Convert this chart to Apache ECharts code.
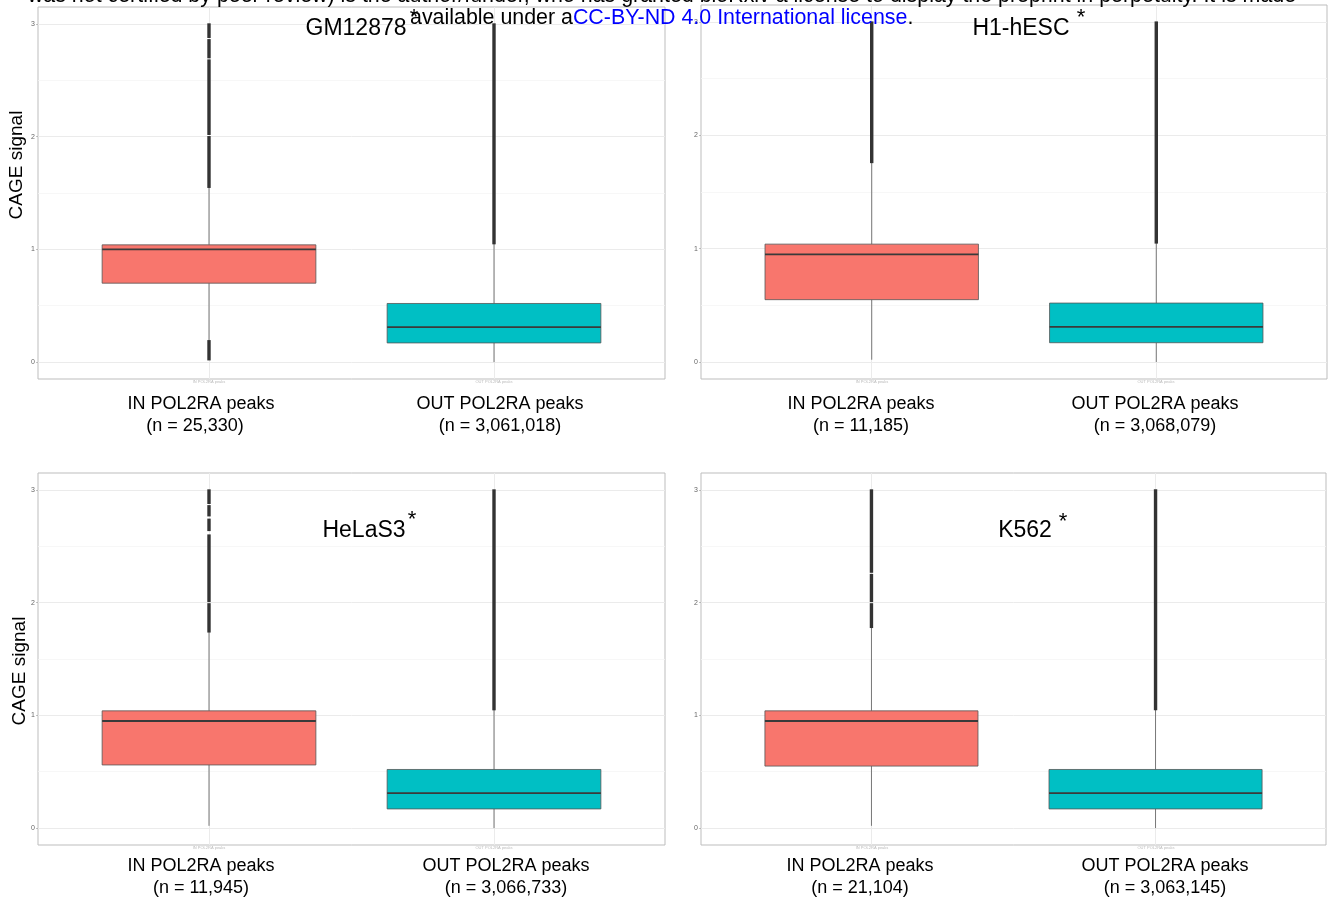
<!DOCTYPE html>
<html>
<head>
<meta charset="utf-8">
<script src="https://cdn.jsdelivr.net/npm/echarts@6/dist/echarts.min.js"></script>
<style>
html,body{margin:0;padding:0;background:#fff;}
#chart{width:1334px;height:901px;}
</style>
</head>
<body>
<div id="chart"></div>
<script>
// ---------------- data ----------------
const categories = ['IN POL2RA peaks', 'OUT POL2RA peaks'];
const categoryX = [1, 2];
const panelNames = ['GM12878', 'H1-hESC', 'HeLaS3', 'K562'];
const counts = [
  ['25,330', '3,061,018'],
  ['11,185', '3,068,079'],
  ['11,945', '3,066,733'],
  ['21,104', '3,063,145']
];
// box stats: [lowerWhisker, Q1, median, Q3, upperWhisker]
const gm12878Box = [[0.19, 0.70, 1.00, 1.04, 1.55], [0.00, 0.17, 0.31, 0.52, 1.05]];
const h1hescBox  = [[0.02, 0.55, 0.95, 1.04, 1.76], [0.00, 0.17, 0.31, 0.52, 1.05]];
const helas3Box  = [[0.02, 0.56, 0.95, 1.04, 1.74], [0.00, 0.17, 0.31, 0.52, 1.05]];
const k562Box    = [[0.02, 0.55, 0.95, 1.04, 1.78], [0.00, 0.17, 0.31, 0.52, 1.05]];
// dense outlier runs: [low, high]
const gm12878Outliers = [[[1.55, 2.00], [2.02, 2.68], [2.70, 2.86], [2.88, 3.00], [0.02, 0.19]], [[1.05, 3.00]]];
const h1hescOutliers  = [[[1.76, 3.00]], [[1.05, 3.00]]];
const helas3Outliers  = [[[1.74, 1.99], [2.01, 2.60], [2.64, 2.74], [2.77, 2.86], [2.88, 3.00]], [[1.05, 3.00]]];
const k562Outliers    = [[[1.78, 1.99], [2.01, 2.25], [2.27, 3.00]], [[1.05, 3.00]]];
const yTicks = [0, 1, 2, 3];
const yMinorGrid = [0.5, 1.5, 2.5];
const boxColors = ['#F8766D', '#00BFC4'];

const allBoxes = [gm12878Box, h1hescBox, helas3Box, k562Box];
const allOutliers = [gm12878Outliers, h1hescOutliers, helas3Outliers, k562Outliers];

// ---------------- layout ----------------
const grids = [
  {left: 38, top: 7, width: 627, height: 372},
  {left: 701, top: 5, width: 626, height: 374},
  {left: 38, top: 473, width: 627, height: 372},
  {left: 701, top: 473, width: 625, height: 372}
];
const FONT = '"Liberation Sans", Arial, Helvetica, sans-serif';

function renderBox(params, api) {
  const x = api.value(0);
  const mn = api.value(1), q1 = api.value(2), md = api.value(3), q3 = api.value(4), mx = api.value(5);
  const half = api.size([0.75, 0])[0] / 2;
  const pMin = api.coord([x, mn]), pQ1 = api.coord([x, q1]), pMd = api.coord([x, md]),
        pQ3 = api.coord([x, q3]), pMax = api.coord([x, mx]);
  const color = boxColors[params.dataIndex % boxColors.length];
  return {
    type: 'group',
    children: [
      {type: 'line', shape: {x1: pMin[0], y1: pMin[1], x2: pQ1[0], y2: pQ1[1]}, style: {stroke: '#777', lineWidth: 1}},
      {type: 'line', shape: {x1: pQ3[0], y1: pQ3[1], x2: pMax[0], y2: pMax[1]}, style: {stroke: '#777', lineWidth: 1}},
      {type: 'rect', shape: {x: pQ1[0] - half, y: pQ3[1], width: half * 2, height: pQ1[1] - pQ3[1]},
        style: {fill: color, stroke: '#555', lineWidth: 0.8}},
      {type: 'line', shape: {x1: pMd[0] - half, y1: pMd[1], x2: pMd[0] + half, y2: pMd[1]}, style: {stroke: '#3a3a3a', lineWidth: 1.8}}
    ]
  };
}

function renderOutlier(params, api) {
  const x = api.value(0);
  const lo = api.coord([x, api.value(1)]);
  const hi = api.coord([x, api.value(2)]);
  return {
    type: 'rect',
    shape: {x: lo[0] - 1.7, y: hi[1] - 0.6, width: 3.4, height: lo[1] - hi[1] + 1.2},
    style: {fill: '#333', stroke: null}
  };
}

const option = {
  backgroundColor: '#fff',
  animation: false,
  grid: grids.map(g => Object.assign({show: true, borderColor: '#bdbdbd', borderWidth: 1, backgroundColor: '#fff', containLabel: false}, g)),
  xAxis: grids.map((g, i) => ({
    type: 'value', gridIndex: i, min: 0.4, max: 2.6,
    axisLine: {show: false}, axisTick: {show: false}, axisLabel: {show: false}, splitLine: {show: false}
  })),
  yAxis: grids.map((g, i) => ({
    type: 'value', gridIndex: i, min: -0.15, max: 3.15,
    axisLine: {show: false},
    axisTick: {show: true, length: 2, customValues: yTicks, lineStyle: {color: '#999', width: 0.6}},
    axisLabel: {show: true, customValues: yTicks, fontSize: 7, color: '#666', margin: 3, fontFamily: FONT},
    splitLine: {show: false}
  })),
  series: [],
  graphic: []
};

for (let i = 0; i < 4; i++) {
  const gridLines = yTicks.map(v => ({yAxis: v, lineStyle: {color: '#ebebeb', width: 1, type: 'solid'}}))
    .concat(yMinorGrid.map(v => ({yAxis: v, lineStyle: {color: '#f5f5f5', width: 0.8, type: 'solid'}})))
    .concat(categoryX.map(v => ({xAxis: v, lineStyle: {color: '#ebebeb', width: 1, type: 'solid'}})));
  option.series.push({
    type: 'custom', xAxisIndex: i, yAxisIndex: i, z: 1, data: [],
    renderItem: () => null,
    markLine: {silent: true, z: 0, symbol: 'none', label: {show: false}, animation: false,
      lineStyle: {type: 'solid'}, emphasis: {disabled: true}, data: gridLines}
  });
  option.series.push({
    type: 'custom', xAxisIndex: i, yAxisIndex: i, z: 3,
    data: allBoxes[i].map((b, k) => [categoryX[k]].concat(b)),
    renderItem: renderBox
  });
  const outData = [];
  allOutliers[i].forEach((runs, k) => runs.forEach(r => outData.push([categoryX[k], r[0], r[1]])));
  option.series.push({
    type: 'custom', xAxisIndex: i, yAxisIndex: i, z: 4,
    data: outData, renderItem: renderOutlier
  });
}

// ---------------- texts ----------------
const G = option.graphic;
function txt(x, y, text, size, extra) {
  G.push(Object.assign({
    type: 'text', x: x, y: y, z: 100,
    style: Object.assign({text: text, fontSize: size, fontFamily: FONT, fill: '#000',
      textAlign: 'center', textVerticalAlign: 'middle'}, (extra && extra.style) || {})
  }, extra && extra.root || {}));
}
// panel category labels
const labelCenters = [[[201, 195], [500, 500]], [[861, 861], [1155, 1155]], [[201, 201], [506, 506]], [[860, 860], [1165, 1165]]];
const boxCenters = [[209, 494], [872, 1156], [209, 494], [872, 1156]];
const labelY = [404, 404, 866, 866];
for (let i = 0; i < 4; i++) {
  for (let k = 0; k < 2; k++) {
    txt(labelCenters[i][k][0], labelY[i], categories[k], 18);
    txt(labelCenters[i][k][1], labelY[i] + 22, '(n = ' + counts[i][k] + ')', 18);
    txt(boxCenters[i][k], grids[i].top + grids[i].height + 3, categories[k], 4, {style: {fill: '#bbb'}});
  }
}
// y axis titles
txt(17, 165, 'CAGE signal', 19, {root: {rotation: Math.PI / 2}});
txt(20, 671, 'CAGE signal', 19, {root: {rotation: Math.PI / 2}});
// panel titles
txt(356, 29, panelNames[0], 23);
txt(414, 18, '*', 22);
txt(1021, 29, panelNames[1], 23);
txt(1081, 18, '*', 22);
txt(364, 531, panelNames[2], 23);
txt(412, 520, '*', 22);
txt(1025, 531, panelNames[3], 23);
txt(1063, 522, '*', 22);
// bioRxiv watermark
txt(662, -4, 'was not certified by peer review) is the author/funder, who has granted bioRxiv a license to display the preprint in perpetuity. It is made', 21.4);
G.push({
  type: 'text', x: 410, y: 18, z: 101,
  style: {
    text: '{k|available under a}{b|CC-BY-ND 4.0 International license}{k|.}',
    fontSize: 21.4, fontFamily: FONT, textVerticalAlign: 'middle', textAlign: 'left',
    rich: {k: {fontSize: 21.4, fontFamily: FONT, fill: '#000', color: '#000'}, b: {fontSize: 21.4, fontFamily: FONT, fill: '#0000ff', color: '#0000ff'}}
  }
});

const chart = echarts.init(document.getElementById('chart'), null, {renderer: 'canvas'});
chart.setOption(option);
</script>
</body>
</html>
